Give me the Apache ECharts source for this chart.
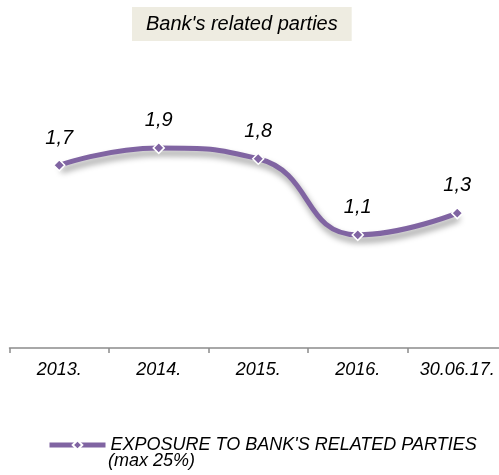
<!DOCTYPE html>
<html>
<head>
<meta charset="utf-8">
<script src="https://cdn.jsdelivr.net/npm/echarts@6/dist/echarts.min.js"></script>
<style>html,body{margin:0;padding:0;background:#fff;overflow:hidden}#c{width:507px;height:475px}</style>
</head>
<body>
<div id="c"></div>
<script>
var titleText = "Bank's related parties";
var categories = ['2013.', '2014.', '2015.', '2016.', '30.06.17.'];
var seriesName = "EXPOSURE TO BANK'S RELATED PARTIES";
var legendSecondLine = '(max 25%)';
var exposure = [1.74, 1.9, 1.8, 1.1, 1.3];

var FONT = '"Liberation Sans", Arial, sans-serif';
var PURPLE = '#8064A2';
var chart = echarts.init(document.getElementById('c'), null, {renderer: 'canvas'});
chart.setOption({
  backgroundColor: '#fff',
  animation: false,
  title: {
    text: titleText,
    left: 132, top: 7,
    backgroundColor: '#EEECE1',
    padding: [6, 14],
    textStyle: {fontFamily: FONT, fontStyle: 'italic', fontWeight: 'normal', fontSize: 20, lineHeight: 22, color: '#000'}
  },
  legend: {
    left: 47, top: 435,
    padding: 0,
    itemWidth: 56, itemHeight: 12, itemGap: 5,
    data: [seriesName],
    lineStyle: {width: 5},
    textStyle: {fontFamily: FONT, fontStyle: 'italic', fontSize: 18, lineHeight: 20, color: '#000'}
  },
  graphic: [{
    type: 'text', left: 108, top: 452,
    style: {text: legendSecondLine, font: 'italic 18px "Liberation Sans", Arial, sans-serif', fill: '#000'}
  }],
  grid: {left: 9.5, right: 0, top: 82.65, bottom: 127, containLabel: false},
  xAxis: {
    type: 'category',
    data: categories,
    boundaryGap: true,
    axisLine: {show: true, onZero: false, lineStyle: {color: '#8c8c8c', width: 1.5}},
    axisTick: {show: true, length: 5, alignWithLabel: false, lineStyle: {color: '#8c8c8c', width: 1.5}},
    axisLabel: {fontFamily: FONT, fontStyle: 'italic', fontSize: 18, color: '#000', margin: 13, interval: 0},
    splitLine: {show: false}
  },
  yAxis: {
    type: 'value', min: 0.06, max: 2.5, show: false, splitLine: {show: false}
  },
  series: [{
    name: seriesName,
    type: 'line',
    data: exposure,
    smooth: 0.5,
    symbol: 'diamond',
    symbolSize: 11,
    itemStyle: {color: PURPLE, borderColor: '#fff', borderWidth: 1.5},
    lineStyle: {color: PURPLE, width: 5, shadowColor: 'rgba(0,0,0,0.4)', shadowBlur: 6, shadowOffsetX: 2, shadowOffsetY: 5},
    label: {
      show: true, position: 'top', distance: 11,
      fontFamily: FONT, fontStyle: 'italic', fontSize: 20, color: '#000',
      formatter: function (p) { return p.value.toFixed(1).replace('.', ','); }
    }
  }]
});
</script>
</body>
</html>
